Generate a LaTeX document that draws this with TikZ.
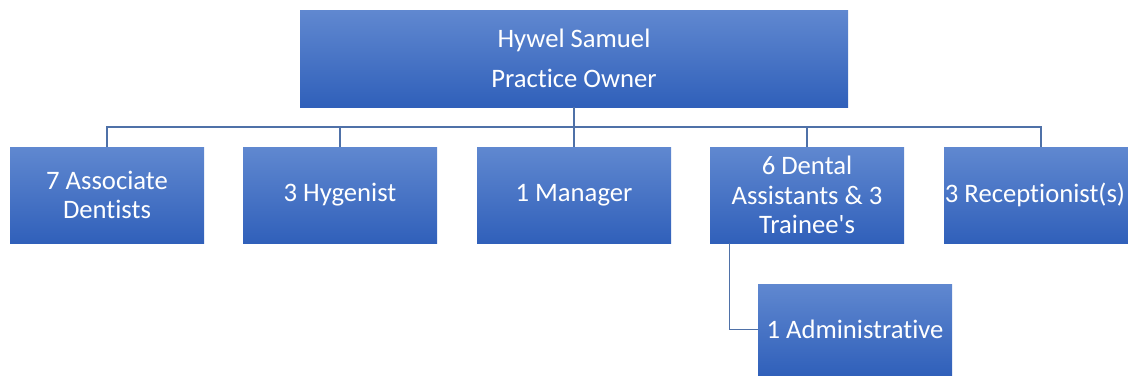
\documentclass[tikz,border=0pt]{standalone}
\usepackage{fontspec}
\setmainfont{Carlito}[Ligatures={NoCommon}]
\definecolor{boxtop}{RGB}{96,136,208}
\definecolor{boxbot}{RGB}{48,96,186}
\definecolor{linec}{RGB}{79,113,168}
\begin{document}
\begin{tikzpicture}[x=0.75pt,y=-0.75pt,
  orgbox/.style={rectangle, top color=boxtop, bottom color=boxbot, draw=none,
    text=white, font=\fontsize{20}{22}\selectfont, align=center,
    minimum width=145.5pt, minimum height=72pt, inner sep=0pt},
  conn/.style={draw=linec, line width=1.1pt}]
\useasboundingbox (0,0) rectangle (1128,376);
\clip (0,0) rectangle (1128,376);
\node[orgbox, minimum width=411pt, minimum height=72.75pt] (top) at (574,58.5) {Hywel Samuel\\[8pt]Practice Owner};
\node[orgbox] (assoc) at (107,195) {7 Associate\\Dentists};
\node[orgbox] (hyg) at (340,195) {3 Hygenist};
\node[orgbox] (man) at (574,195) {1 Manager};
\node[orgbox] (dent) at (807,195) {6 Dental\\Assistants \& 3\\Trainee\textquotesingle s};
\node[orgbox] (rec) at (1041,195) {3 Receptionist(s)\hspace*{9pt}};
\node[orgbox, minimum height=68.25pt] (adm) at (855,329.5) {1 Administrative};
\coordinate (bus) at (574,127);
\draw[conn] (top.south) -- (bus);
\draw[conn] (bus) -| (assoc.north);
\draw[conn] (bus) -| (hyg.north);
\draw[conn] (bus) -- (man.north);
\draw[conn] (bus) -| (dent.north);
\draw[conn] (bus) -| (rec.north);
\draw[conn] (dent.south west) ++(20,0) |- (adm.west);
\end{tikzpicture}
\end{document}
